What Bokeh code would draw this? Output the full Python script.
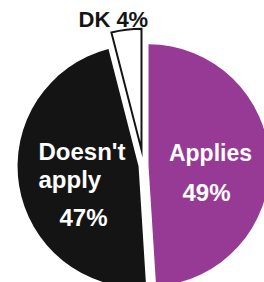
import math
from bokeh.plotting import figure
from bokeh.models import Range1d
from bokeh.core.properties import value
from bokeh.embed import file_html
from bokeh.resources import INLINE

# data
categories = ["Applies", "Doesn't apply", "DK"]
percents = [49, 47, 4]
colors = ["#973a95", "#141414", "#ffffff"]
outline = [None, None, "#141414"]
explode = [5, 5, 16]

W, H = 264, 282
p = figure(width=W, height=H, output_backend="svg", toolbar_location=None,
           x_range=Range1d(0, W), y_range=Range1d(0, H), min_border=0)
p.axis.visible = False
p.grid.visible = False
p.outline_line_color = None
p.background_fill_color = "white"

cx, cy, R = 143, 165, 121  # screen coordinates of base centre
total = sum(percents)
cum = 0.0
xs, ys, sa, ea = [], [], [], []
for v, ex in zip(percents, explode):
    f0 = cum / total
    f1 = (cum + v) / total
    mid = (f0 + f1) / 2 * 2 * math.pi  # clockwise from 12 o'clock
    sx = cx + ex * math.sin(mid)
    sy = cy - ex * math.cos(mid)
    xs.append(sx)
    ys.append(H - sy)
    sa.append(math.pi / 2 - 2 * math.pi * f0)
    ea.append(math.pi / 2 - 2 * math.pi * f1)
    cum += v

for i in range(3):
    p.wedge(x=[xs[i]], y=[ys[i]], radius=R, start_angle=[sa[i]], end_angle=[ea[i]],
            direction="clock", fill_color=colors[i],
            line_color=outline[i], line_width=2 if outline[i] else 0,
            line_join="miter")

font = value("Liberation Sans")
DY = -6  # baseline correction

def txt(x, y, s, size, color, align="left"):
    p.text(x=[x], y=[H - (y + DY)], text=[s], text_font=font, text_font_size=f"{size}px",
           text_font_style="bold", text_color=color, text_align=align,
           text_baseline="alphabetic")

# labels
txt(78, 25, f"{categories[2]} {percents[2]}%", 22, "#141414")
txt(38, 157, "Doesn't", 24, "white")
txt(38, 185, "apply", 24, "white")
txt(83, 223, f"{percents[1]}%", 24, "white", "center")
txt(210, 158, categories[0], 23, "white", "center")
txt(206, 198, f"{percents[0]}%", 24, "white", "center")

open("out.html", "w").write(file_html(p, INLINE))
